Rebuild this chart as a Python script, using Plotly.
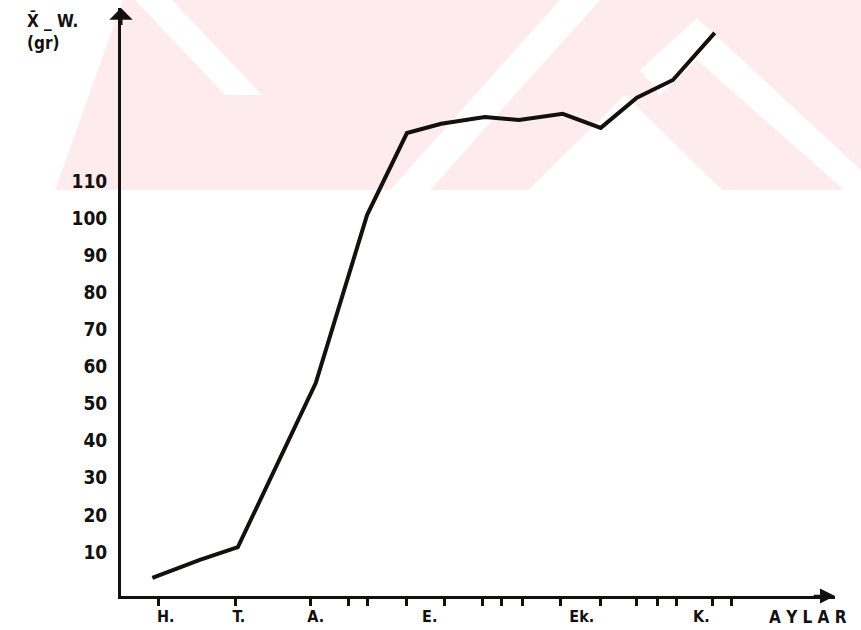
import plotly.graph_objects as go

# Data (x in weeks from start of June "H.", y = mean weight in grams)
weeks = [-0.3, 2.2, 4.2, 8.3, 11.0, 13.1, 14.9, 17.2, 19.0, 21.3, 23.3, 25.2, 27.1, 29.3]
weights = [3.0, 7.9, 11.3, 55.5, 100.8, 122.9, 125.4, 127.2, 126.4, 128.1, 124.3, 132.4, 137.2, 149.9]

y_ticks = [10, 20, 30, 40, 50, 60, 70, 80, 90, 100, 110]
month_labels = ["H.", "T.", "A.", "E.", "Ek.", "K."]
month_label_pos = [0.4, 4.25, 8.3, 14.3, 22.3, 28.6]
minor_tick_pos = [0, 4.05, 8.0, 10.0, 11.0, 13.1, 15.1, 17.1, 18.1, 19.2, 21.2,
                  23.3, 25.2, 26.3, 27.3, 29.2, 30.2]

INK = "#141010"
PINK = "#fdebee"
FONT = "DejaVu Sans Condensed, Liberation Sans Narrow, DejaVu Sans"

L, R, T, B = 121, 26, 8, 34
W, H = 861, 630
PW, PH = W - L - R, H - T - B


def px(x):
    return (x - L) / PW


def py(y):
    return (H - B - y) / PH


def path(points):
    return "M " + " L ".join(f"{px(x):.4f},{py(y):.4f}" for x, y in points) + " Z"


fig = go.Figure()
fig.add_trace(go.Scatter(x=weeks, y=weights, mode="lines",
                         line=dict(color=INK, width=4), hoverinfo="skip"))

x_range = [-1.95, 35.63]
y_range = [-1.86, 156.6]

# faint background watermark (decorative)
bg_shapes = []
bg_shapes.append(dict(type="path", path=path([(123, 0), (861, 0), (861, 190), (55, 190)]),
                      fillcolor=PINK, line=dict(width=0)))
for poly in [
    [(135, 0), (172, 0), (262, 95), (225, 95)],
    [(560, 0), (600, 0), (430, 190), (390, 190)],
    [(697, 18), (861, 170), (861, 205), (697, 60), (660, 95), (640, 70)],
    [(625, 95), (722, 190), (528, 190)],
]:
    bg_shapes.append(dict(type="path", path=path(poly), fillcolor="white",
                          line=dict(width=0)))
for s in bg_shapes:
    s.update(xref="paper", yref="paper", layer="below")

fig.update_layout(
    width=W, height=H,
    margin=dict(l=L, r=R, t=T, b=B, autoexpand=False),
    paper_bgcolor="white", plot_bgcolor="rgba(0,0,0,0)",
    showlegend=False,
    shapes=bg_shapes,
    font=dict(family=FONT, color=INK),
    xaxis=dict(range=x_range, showgrid=False, zeroline=False,
               showline=True, linecolor=INK, linewidth=3,
               tickmode="array", tickvals=month_label_pos, ticktext=month_labels,
               ticks="", ticklabelstandoff=4,
               tickfont=dict(size=16, family=FONT, color=INK, weight="bold"),
               minor=dict(tickmode="array", tickvals=minor_tick_pos, ticks="outside",
                          ticklen=7, tickwidth=3, tickcolor=INK)),
    yaxis=dict(range=y_range, showgrid=False, zeroline=False,
               showline=True, linecolor=INK, linewidth=3,
               tickmode="array", tickvals=y_ticks, ticks="",
               ticklabelstandoff=7,
               tickfont=dict(size=19, family=FONT, color=INK, weight="bold")),
)

# axis arrowheads
fig.add_annotation(x=x_range[1], y=y_range[0], ax=x_range[1] - 1.2, ay=y_range[0],
                   xref="x", yref="y", axref="x", ayref="y", showarrow=True,
                   arrowhead=2, arrowsize=1.2, arrowwidth=2.5, arrowcolor=INK, text="")
fig.add_annotation(x=x_range[0], y=y_range[1], ax=x_range[0], ay=y_range[1] - 5,
                   xref="x", yref="y", axref="x", ayref="y", showarrow=True,
                   arrowhead=1, arrowsize=1.3, arrowwidth=3, arrowcolor=INK, text="")

# axis titles
fig.add_annotation(x=px(808), y=py(617), xref="paper", yref="paper", text="<b>A Y L A R</b>",
                   showarrow=False, xanchor="center", yanchor="middle",
                   font=dict(size=17, family=FONT, color=INK))
fig.add_annotation(x=px(80), y=py(8), xref="paper", yref="paper",
                   text="<b>X̄ _ W.<br>(gr)</b>", align="left", showarrow=False,
                   xanchor="right", yanchor="top",
                   font=dict(size=17, family=FONT, color=INK))

fig.write_html("out.html", config={"displayModeBar": False},
               post_script="document.body.style.margin='0';"
               "document.body.style.padding='0';")
